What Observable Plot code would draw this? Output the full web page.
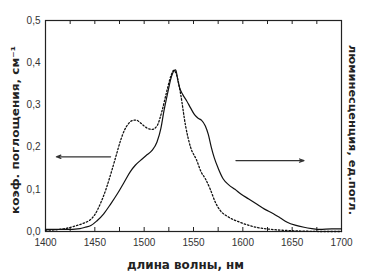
<!DOCTYPE html>
<html>
<head>
<meta charset="utf-8">
<script src="https://cdn.jsdelivr.net/npm/d3@7"></script>
<script src="https://cdn.jsdelivr.net/npm/@observablehq/plot@0.6"></script>
<style>
  html, body { margin: 0; padding: 0; background: #fff; }
  svg { display: block; }
</style>
</head>
<body>
<div id="chart"></div>
<script>
// Absorption (dotted) spectrum
const absWl = [1400,1410,1420,1430,1440,1445,1450,1456,1462,1466,1471,1476,1480,1484,1488,1492,1496,1500,1505,1508,1513,1518,1523,1527,1530,1533,1537,1542,1547,1553,1558,1562,1567,1572,1577,1585,1597,1610,1625,1640,1660,1680,1700];
const absVal = [0.003,0.004,0.007,0.013,0.021,0.027,0.04,0.068,0.105,0.135,0.175,0.215,0.24,0.255,0.263,0.264,0.258,0.25,0.243,0.242,0.25,0.285,0.333,0.368,0.382,0.37,0.325,0.25,0.2,0.17,0.14,0.125,0.1,0.07,0.05,0.035,0.022,0.012,0.006,0.003,0.001,0,0];
// Luminescence (solid) spectrum
const lumWl = [1400,1420,1435,1440,1446,1452,1459,1466,1473,1480,1486,1491,1496,1502,1508,1513,1517,1520,1524,1527,1530,1532,1534,1536,1539,1543,1547,1551,1555,1558,1562,1565,1568,1571,1575,1580,1586,1592,1598,1606,1614,1622,1631,1638,1645,1653,1662,1670,1678,1690,1700];
const lumVal = [0.005,0.005,0.007,0.01,0.014,0.025,0.042,0.065,0.09,0.118,0.142,0.157,0.168,0.18,0.192,0.212,0.245,0.285,0.33,0.362,0.38,0.383,0.36,0.34,0.325,0.31,0.293,0.277,0.268,0.264,0.25,0.23,0.2,0.175,0.15,0.125,0.11,0.1,0.089,0.077,0.065,0.053,0.042,0.032,0.022,0.015,0.01,0.007,0.005,0.006,0.006];
// Arrows pointing to the respective axes
const arrowX1 = [1466, 1593];
const arrowX2 = [1411, 1662];
const arrowY = [0.177, 0.168];
// Tick labels
const xTicks = [1400,1450,1500,1550,1600,1650,1700];
const xMinorTicks = [1425,1450,1475,1500,1525,1550,1575,1600,1625,1650,1675];
const yTicks = [0,0.1,0.2,0.3,0.4,0.5];
const yLabel = "коэф. поглощения, см⁻¹";
const y2Label = "люминесценция, ед.погл.";
const xLabel = "длина волны, нм";

const absData = absWl.map((x, i) => ({x, y: absVal[i]}));
const lumData = lumWl.map((x, i) => ({x, y: lumVal[i]}));
const arrows = arrowX1.map((x1, i) => ({x1, x2: arrowX2[i], y: arrowY[i]}));
const fmt = d => d.toFixed(1).replace(".", ",");
const labelFont = {fontFamily: "DejaVu Sans", fontWeight: "bold", fontSize: 10.5, fill: "#222", textAnchor: "middle"};

const W = 366, H = 279, mT = 20, mB = 48;
const frameH = H - mT - mB;
const tickLen = 4;

const chart = Plot.plot({
  width: W,
  height: H,
  marginLeft: 45,
  marginRight: 25,
  marginTop: mT,
  marginBottom: mB,
  style: {fontFamily: "Liberation Sans, Arial, sans-serif", fontSize: "10px", color: "#333", background: "#fff"},
  x: {domain: [1400, 1700]},
  y: {domain: [0, 0.5]},
  marks: [
    Plot.axisX({ticks: xTicks, tickSize: 0, tickPadding: 7, tickFormat: d => String(d), label: null, fontSize: 10}),
    Plot.axisY({ticks: yTicks, tickSize: 0, tickPadding: 5, tickFormat: fmt, label: null, fontSize: 10}),
    // inward ticks along the bottom and top edges
    Plot.tickX(xMinorTicks, {x: d => d, insetTop: frameH - tickLen, stroke: "#222", strokeWidth: 1}),
    Plot.tickX(xMinorTicks, {x: d => d, insetBottom: frameH - tickLen, stroke: "#222", strokeWidth: 1}),
    Plot.frame({stroke: "#222", strokeWidth: 1.2}),
    Plot.line(absData, {x: "x", y: "y", curve: "monotone-x", stroke: "#111", strokeWidth: 1.3, strokeDasharray: "1.5,2"}),
    Plot.line(lumData, {x: "x", y: "y", curve: "monotone-x", stroke: "#111", strokeWidth: 1.2}),
    Plot.arrow(arrows, {x1: "x1", x2: "x2", y1: "y", y2: "y", stroke: "#333", strokeWidth: 1.2, headLength: 6, headAngle: 40}),
    Plot.text([yLabel], {text: d => d, frameAnchor: "left", dx: -30, dy: 4, rotate: -90, ...labelFont}),
    Plot.text([y2Label], {text: d => d, frameAnchor: "right", dx: 11, dy: 4, rotate: 90, ...labelFont}),
    Plot.text([xLabel], {text: d => d, frameAnchor: "bottom", dx: -8, dy: 37, ...labelFont, fontSize: 11.5})
  ]
});
// fit the axis titles to the lengths they have in the reference
const fitLen = {[yLabel]: 168, [y2Label]: 170, [xLabel]: 117};
d3.select(chart).selectAll("text").each(function() {
  const L = fitLen[this.textContent];
  if (L) d3.select(this).attr("textLength", L).attr("lengthAdjust", "spacingAndGlyphs");
});
document.getElementById("chart").appendChild(chart);
</script>
</body>
</html>
